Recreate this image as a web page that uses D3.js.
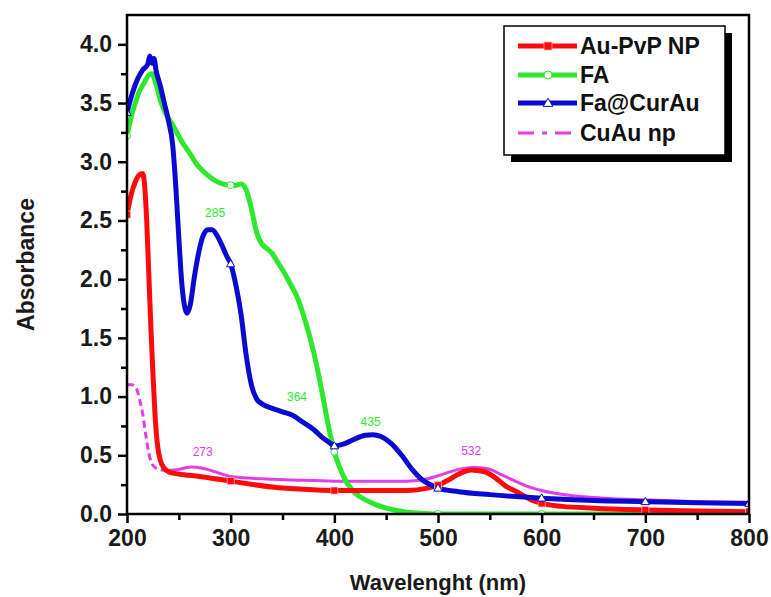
<!DOCTYPE html>
<html>
<head>
<meta charset="utf-8">
<script src="https://cdn.jsdelivr.net/npm/d3@7"></script>
<style>
  html, body { margin: 0; padding: 0; background: #fff; }
  svg { display: block; font-family: "Liberation Sans", Arial, sans-serif; }
</style>
</head>
<body>
<svg id="chart" width="771" height="597"></svg>
<script>
// ---------------- data ----------------
const xTicks = [200, 300, 400, 500, 600, 700, 800];
const xMinorTicks = [250, 350, 450, 550, 650, 750];
const yTicks = [0, 0.5, 1.0, 1.5, 2.0, 2.5, 3.0, 3.5, 4.0];
const yMinorTicks = [0.25, 0.75, 1.25, 1.75, 2.25, 2.75, 3.25, 3.75];

const seriesNames = ["Au-PvP NP", "FA", "Fa@CurAu", "CuAu np"];
const seriesColors = ["#ff0a0a", "#2ee82e", "#0a0ad0", "#e23ee6"];

const auPvpX = [200, 204, 208, 212, 215, 217, 219, 221, 223, 225, 227, 229, 232, 236, 240, 250, 270, 300, 340, 370, 400, 440, 470, 490, 500, 510, 520, 532, 545, 555, 565, 578, 590, 600, 620, 650, 700, 750, 800];
const auPvpY = [2.55, 2.72, 2.83, 2.89, 2.9, 2.8, 2.5, 2.05, 1.6, 1.2, 0.85, 0.62, 0.46, 0.39, 0.36, 0.34, 0.32, 0.28, 0.23, 0.21, 0.2, 0.2, 0.2, 0.22, 0.245, 0.29, 0.34, 0.375, 0.36, 0.31, 0.24, 0.18, 0.12, 0.09, 0.065, 0.05, 0.035, 0.025, 0.02];

const faX = [200, 204, 208, 212, 217, 221, 224, 228, 233, 238, 243, 248, 253, 260, 268, 276, 285, 293, 300, 305, 310, 315, 320, 325, 330, 335, 340, 345, 350, 357, 364, 370, 375, 380, 385, 390, 395, 400, 405, 410, 415, 420, 430, 440, 450, 460, 470, 480, 500, 550, 600, 700, 800];
const faY = [3.22, 3.38, 3.5, 3.6, 3.68, 3.74, 3.75, 3.66, 3.5, 3.4, 3.33, 3.25, 3.17, 3.08, 2.97, 2.9, 2.84, 2.81, 2.8, 2.8, 2.81, 2.76, 2.6, 2.4, 2.3, 2.26, 2.22, 2.15, 2.08, 1.97, 1.85, 1.7, 1.55, 1.38, 1.18, 0.95, 0.72, 0.53, 0.4, 0.3, 0.23, 0.18, 0.12, 0.08, 0.05, 0.03, 0.015, 0.008, 0.0, 0.0, 0.0, 0.0, 0.0];

const faCurAuX = [200, 205, 210, 215, 220, 222, 224, 226, 228, 232, 236, 240, 244, 247, 250, 253, 256, 258, 261, 265, 269, 273, 278, 282, 287, 292, 296, 300, 305, 310, 315, 320, 325, 330, 340, 350, 360, 370, 380, 390, 395, 400, 410, 420, 430, 437, 445, 455, 465, 475, 485, 495, 500, 520, 550, 600, 650, 700, 750, 800];
const faCurAuY = [3.42, 3.58, 3.7, 3.78, 3.83, 3.9, 3.84, 3.88, 3.78, 3.65, 3.5, 3.35, 3.15, 2.8, 2.35, 1.95, 1.75, 1.71, 1.78, 2.02, 2.22, 2.36, 2.42, 2.42, 2.37, 2.28, 2.2, 2.13, 1.95, 1.7, 1.35, 1.1, 0.98, 0.94, 0.9, 0.87, 0.84, 0.78, 0.72, 0.64, 0.61, 0.58, 0.6, 0.64, 0.67, 0.675, 0.66, 0.6, 0.5, 0.38, 0.29, 0.24, 0.22, 0.19, 0.165, 0.135, 0.115, 0.105, 0.095, 0.09];

const cuAuX = [200, 205, 209, 212, 215, 218, 221, 224, 228, 234, 240, 250, 262, 273, 285, 300, 330, 360, 400, 440, 470, 490, 505, 520, 535, 548, 560, 572, 585, 600, 630, 660, 700, 750, 800];
const cuAuY = [1.1, 1.1, 1.07, 0.98, 0.86, 0.68, 0.52, 0.43, 0.39, 0.375, 0.37, 0.38, 0.4, 0.39, 0.36, 0.32, 0.3, 0.29, 0.28, 0.28, 0.28, 0.3, 0.34, 0.38, 0.395, 0.385, 0.34, 0.29, 0.24, 0.2, 0.155, 0.135, 0.12, 0.105, 0.1];
const cuAuDashedUntil = 240;

const peakLabels = ["285", "364", "435", "273", "532"];
const peakLabelX = [285, 364, 435, 273, 532];
const peakLabelY = [2.56, 0.99, 0.78, 0.52, 0.53];
const peakLabelSeries = [1, 1, 1, 3, 3];

// ---------------- layout ----------------
const svg = d3.select("#chart");
const pLeft = 127, pRight = 749, pTop = 15, pBottom = 514;

const x = d3.scaleLinear().domain([200, 800]).range([pLeft, pRight]);
const y = d3.scaleLinear().domain([0, 4.25]).range([pBottom, pTop]);

const toPts = (xs, ys) => xs.map((v, i) => [v, ys[i]]);
const series = [
  { name: seriesNames[0], color: seriesColors[0], pts: toPts(auPvpX, auPvpY), marker: "square", width: 5 },
  { name: seriesNames[1], color: seriesColors[1], pts: toPts(faX, faY), marker: "circle", width: 5 },
  { name: seriesNames[2], color: seriesColors[2], pts: toPts(faCurAuX, faCurAuY), marker: "triangle", width: 5 },
  { name: seriesNames[3], color: seriesColors[3], pts: toPts(cuAuX, cuAuY), marker: null, width: 3 }
];

svg.append("defs").append("clipPath").attr("id", "plotclip")
  .append("rect").attr("x", pLeft).attr("y", pTop - 2).attr("width", pRight - pLeft).attr("height", pBottom - pTop + 2);

const line = d3.line().x(d => x(d[0])).y(d => y(d[1])).curve(d3.curveMonotoneX);

const plot = svg.append("g").attr("clip-path", "url(#plotclip)");

// draw order: CuAu, FA, Au-PvP, Fa@CurAu (blue on top)
const order = [3, 1, 0, 2];
order.forEach(si => {
  const s = series[si];
  if (si === 3) {
    const dashed = s.pts.filter(p => p[0] <= cuAuDashedUntil);
    const solid = s.pts.filter(p => p[0] >= cuAuDashedUntil);
    plot.append("path").attr("d", line(dashed)).attr("fill", "none")
      .attr("stroke", s.color).attr("stroke-width", s.width).attr("stroke-dasharray", "7,4");
    plot.append("path").attr("d", line(solid)).attr("fill", "none")
      .attr("stroke", s.color).attr("stroke-width", s.width);
  } else {
    plot.append("path").attr("d", line(s.pts)).attr("fill", "none")
      .attr("stroke", s.color).attr("stroke-width", s.width).attr("stroke-linejoin", "round");
  }
});

// markers at every 100 nm
function drawMarker(g, type, cx, cy, color, size) {
  if (type === "square") {
    g.append("rect").attr("x", cx - size).attr("y", cy - size).attr("width", size * 2).attr("height", size * 2)
      .attr("fill", color).attr("stroke", "#ffb0b0").attr("stroke-width", 0.8);
  } else if (type === "circle") {
    g.append("circle").attr("cx", cx).attr("cy", cy).attr("r", size)
      .attr("fill", "#fff").attr("stroke", color).attr("stroke-width", 1);
  } else if (type === "triangle") {
    const s = size * 1.2;
    g.append("path").attr("d", `M${cx},${cy - s}L${cx + s},${cy + s * 0.7}L${cx - s},${cy + s * 0.7}Z`)
      .attr("fill", "#fff").attr("stroke", color).attr("stroke-width", 1);
  }
}
const markerG = svg.append("g").attr("clip-path", "url(#plotclip)");
order.forEach(si => {
  const s = series[si];
  if (!s.marker) return;
  s.pts.filter(p => p[0] % 100 === 0).forEach(p => drawMarker(markerG, s.marker, x(p[0]), y(p[1]), s.color, 3.5));
});

// peak labels
peakLabels.forEach((t, i) => {
  svg.append("text").attr("x", x(peakLabelX[i])).attr("y", y(peakLabelY[i]))
    .attr("text-anchor", "middle").attr("font-size", 12).attr("fill", seriesColors[peakLabelSeries[i]])
    .attr("dominant-baseline", "middle").text(t);
});

// ---------------- axes ----------------
const fmt = d3.format(".1f");
const xAxis = svg.append("g").attr("transform", `translate(0,${pBottom})`)
  .call(d3.axisBottom(x).tickValues(xTicks).tickSize(9).tickPadding(7).tickFormat(d3.format("d")));
const xMinor = svg.append("g").attr("transform", `translate(0,${pBottom})`)
  .call(d3.axisBottom(x).tickValues(xMinorTicks).tickSize(6).tickFormat(""));
const yAxis = svg.append("g").attr("transform", `translate(${pLeft},0)`)
  .call(d3.axisLeft(y).tickValues(yTicks).tickSize(9).tickPadding(6).tickFormat(fmt));
const yMinor = svg.append("g").attr("transform", `translate(${pLeft},0)`)
  .call(d3.axisLeft(y).tickValues(yMinorTicks).tickSize(6).tickFormat(""));

[xAxis, xMinor, yAxis, yMinor].forEach(g => {
  g.select(".domain").remove();
  g.selectAll(".tick line").attr("stroke", "#000").attr("stroke-width", 2.5);
  g.selectAll("text").attr("fill", "#1a1a1a").attr("font-size", 23).attr("font-weight", "bold")
    .attr("font-family", "'Liberation Sans', Arial, sans-serif");
});

// frame
svg.append("rect").attr("x", pLeft).attr("y", pTop).attr("width", pRight - pLeft).attr("height", pBottom - pTop)
  .attr("fill", "none").attr("stroke", "#000").attr("stroke-width", 2.5);

// axis titles
svg.append("text").attr("x", 438).attr("y", 590).attr("text-anchor", "middle")
  .attr("font-size", 22).attr("font-weight", "bold").attr("fill", "#1a1a1a").text("Wavelenght (nm)");
svg.append("text").attr("transform", `translate(34,${(pTop + pBottom) / 2}) rotate(-90)`)
  .attr("text-anchor", "middle").attr("font-size", 23).attr("font-weight", "bold").attr("fill", "#1a1a1a").text("Absorbance");

// ---------------- legend ----------------
const lg = svg.append("g");
const lx = 504, ly = 26, lw = 221, lh = 129;
lg.append("rect").attr("x", lx + 7).attr("y", ly + 7).attr("width", lw).attr("height", lh).attr("fill", "#000");
lg.append("rect").attr("x", lx).attr("y", ly).attr("width", lw).attr("height", lh)
  .attr("fill", "#fff").attr("stroke", "#000").attr("stroke-width", 1.5);
const rowY = [46, 75, 103, 133];
series.forEach((s, i) => {
  const yy = rowY[i];
  const l = lg.append("line").attr("x1", 518).attr("x2", 577).attr("y1", yy).attr("y2", yy)
    .attr("stroke", s.color).attr("stroke-width", i === 3 ? 3 : 5);
  if (i === 3) l.attr("stroke-dasharray", "16,8,5,8");
  if (s.marker) drawMarker(lg, s.marker, 548, yy, s.color, 4);
  lg.append("text").attr("x", 580).attr("y", yy).attr("dominant-baseline", "central")
    .attr("font-size", 23).attr("font-weight", "bold").attr("fill", "#111").text(s.name);
});
</script>
</body>
</html>
